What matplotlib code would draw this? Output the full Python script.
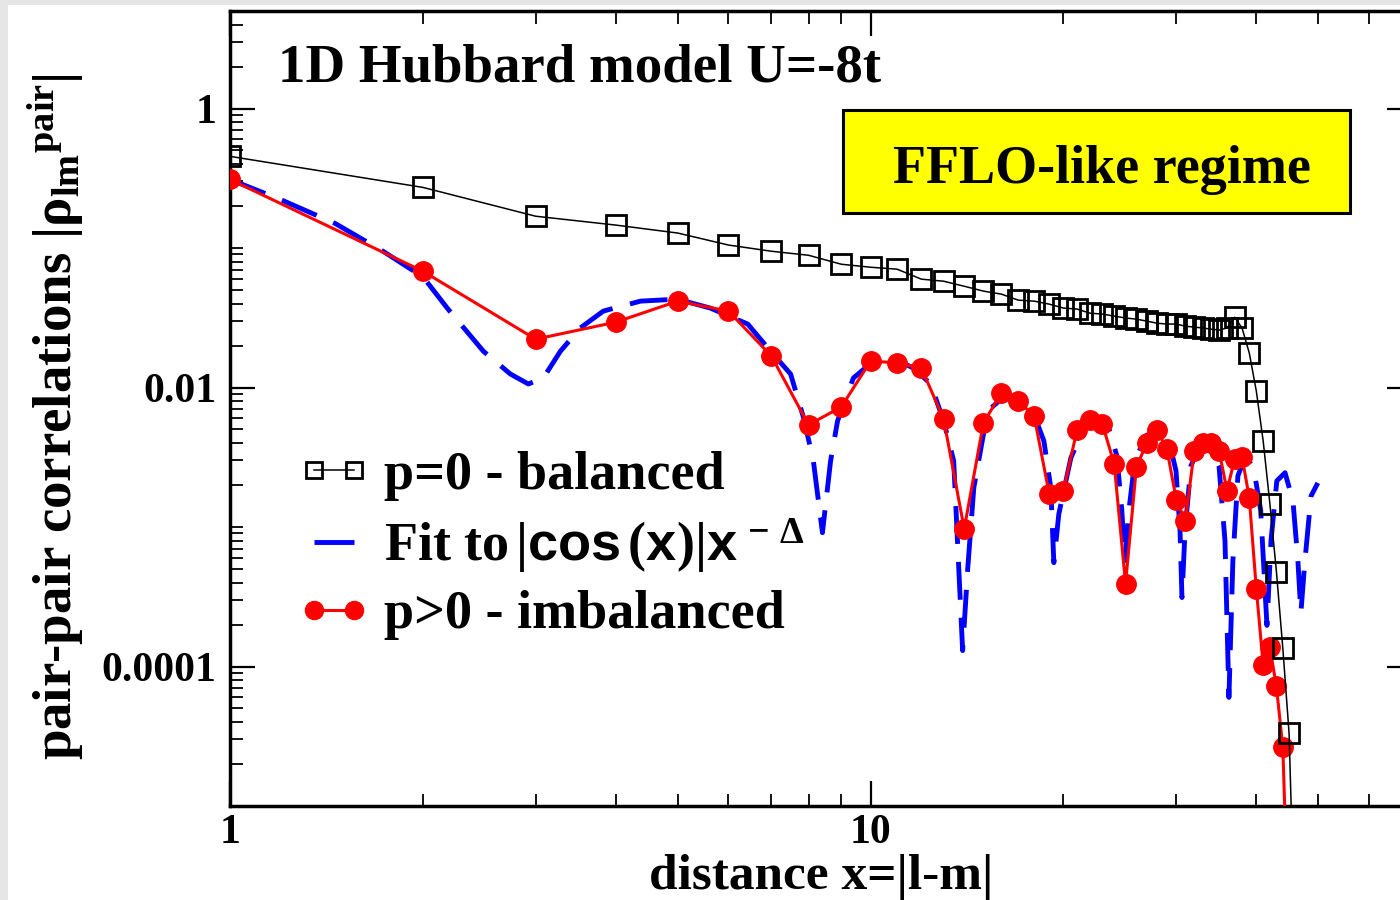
import matplotlib
matplotlib.use("Agg")
import matplotlib.pyplot as plt
from matplotlib.lines import Line2D
from matplotlib.patches import Rectangle
from matplotlib.ticker import FixedLocator, FuncFormatter, NullFormatter

plt.rcParams['font.family'] = ['Liberation Serif', 'DejaVu Serif']
plt.rcParams['font.weight'] = 'bold'
plt.rcParams['axes.labelweight'] = 'bold'
plt.rcParams['mathtext.fontset'] = 'custom'
plt.rcParams['mathtext.rm'] = 'Liberation Serif'
plt.rcParams['mathtext.it'] = 'Liberation Serif:italic'
plt.rcParams['mathtext.bf'] = 'Liberation Serif:bold'
plt.rcParams['mathtext.sf'] = 'Liberation Sans:bold'

# ---- data ----
x_bal = list(range(1, 47))
y_bal = [0.454, 0.272, 0.169, 0.146, 0.128, 0.105, 0.0948, 0.0887, 0.0765, 0.0728,
         0.0705, 0.0598, 0.0578, 0.0532, 0.0491, 0.0467, 0.0423, 0.0416, 0.0396, 0.0371,
         0.0365, 0.0341, 0.0336, 0.0325, 0.0315, 0.0309, 0.0299, 0.0289, 0.0285, 0.0285,
         0.0275, 0.0271, 0.0267, 0.0262, 0.0258, 0.0267, 0.0319, 0.0267, 0.0177, 0.00944,
         0.00414, 0.00147, 4.78e-4, 1.35e-4, 3.32e-5, 1e-6]

x_imb = list(range(1, 46))
y_imb = [0.310, 0.0682, 0.0222, 0.0294, 0.0416, 0.0353, 0.0168, 0.0054, 0.00725, 0.0155,
         0.0150, 0.0138, 0.00595, 0.00097, 0.00557, 0.00914, 0.0080, 0.00625, 0.00173, 0.00182,
         0.00497, 0.00585, 0.00548, 0.00284, 3.93e-4, 0.0027, 0.00401, 0.00497, 0.00363, 0.00157,
         0.00111, 0.00351, 0.00401, 0.00401, 0.00351, 0.00182, 0.00308, 0.00318, 0.00162, 3.61e-4,
         1.03e-4, 1.37e-4, 7.19e-5, 2.63e-5, 1e-6]

x_fit = [1.0, 1.206, 1.459, 1.734, 2.003, 2.183, 2.486, 2.739, 2.922, 3.084,
         3.279, 3.522, 3.826, 4.372, 4.99, 5.62, 6.43, 6.98, 7.50, 7.86,
         8.14, 8.41, 8.66, 8.88, 9.40, 10.11, 10.86, 11.67, 12.41, 13.00,
         13.48, 13.92, 14.18, 14.49, 15.23, 16.13, 16.98, 17.98, 18.64, 19.11,
         19.32, 19.67, 20.54, 21.53, 22.48, 23.55, 24.23, 24.67, 24.93, 25.30,
         25.85, 26.91, 28.07, 29.22, 29.97, 30.41, 30.62, 30.96, 31.62, 32.79,
         33.97, 34.98, 35.74, 36.25, 36.77, 37.44, 38.53, 39.64, 40.64, 41.56,
         42.17, 43.06, 44.35, 45.63, 46.45, 46.95, 47.64, 48.70, 49.9]
y_fit = [0.310, 0.220, 0.150, 0.0947, 0.0618, 0.0371, 0.0182, 0.0125, 0.0106, 0.0117,
         0.0182, 0.0267, 0.0353, 0.0416, 0.0430, 0.0371, 0.0285, 0.0182, 0.0125, 0.00605,
         0.00298, 0.00091, 0.00298, 0.00576, 0.0117, 0.0155, 0.0160, 0.0138, 0.0106, 0.00576,
         0.00298, 1.30e-4, 5.11e-4, 0.00191, 0.00679, 0.00855, 0.0080, 0.00646, 0.00414, 0.00191,
         5.55e-4, 0.00124, 0.00313, 0.00513, 0.00576, 0.00505, 0.00324, 0.00131, 5.74e-4, 0.00131,
         0.00298, 0.0045, 0.00505, 0.00414, 0.00253, 9.4e-4, 3.12e-4, 9.4e-4, 0.00274, 0.00394,
         0.00380, 0.00274, 7.97e-4, 6.0e-5, 5.74e-4, 0.00233, 0.00324, 0.00261, 0.00131, 1.97e-4,
         7.97e-4, 0.00214, 0.00245, 0.00154, 5.74e-4, 2.43e-4, 5.74e-4, 0.00167, 0.00207]

labels = ["p=0 - balanced",
          r"Fit to$\,|\mathsf{cos}\,(\mathsf{x})|\mathsf{x}^{\,-\,\mathit{\Delta}}$",
          "p>0 - imbalanced"]

fig = plt.figure(figsize=(14, 9), dpi=100)
fig.patch.set_facecolor('#e6e6e6')
fig.patches.append(Rectangle((8 / 1400, 0), 1, 895 / 900, transform=fig.transFigure,
                             facecolor='white', edgecolor='none', zorder=-10))
ax = fig.add_axes([230 / 1400, 94 / 900, 1182 / 1400, 795 / 900])
ax.set_facecolor('white')

ax.plot(x_fit, y_fit, color='#0000ff', lw=3.5, dashes=(7.8, 3.7), zorder=2)
ax.plot(x_imb, y_imb, color='#ff0000', lw=2.2, marker='o', ms=14, zorder=3)
ax.plot(x_bal, y_bal, color='black', lw=1.1, marker='s', ms=15, mfc='none',
        mec='black', mew=2.0, zorder=4)

ax.set_xscale('log')
ax.set_yscale('log')
ax.set_xlim(1, 70)
ax.set_ylim(1e-5, 5)

ax.xaxis.set_major_locator(FixedLocator([1, 10]))
ax.xaxis.set_minor_locator(FixedLocator([k * 10 ** n for n in (0, 1) for k in range(2, 10)]))
ax.yaxis.set_major_locator(FixedLocator([1e-4, 1e-2, 1]))
ax.yaxis.set_minor_locator(FixedLocator([k * 10.0 ** n for n in range(-5, 1) for k in range(1, 10)
                                         if (k, n) not in ((1, -4), (1, -2), (1, 0))]))
fmt = FuncFormatter(lambda v, p: f"{v:g}")
ax.xaxis.set_major_formatter(fmt)
ax.yaxis.set_major_formatter(fmt)
ax.xaxis.set_minor_formatter(NullFormatter())
ax.yaxis.set_minor_formatter(NullFormatter())

ax.tick_params(which='both', direction='in', top=True, right=True, labelsize=30)
ax.tick_params(which='major', length=18, width=1.6, pad=10)
ax.tick_params(which='minor', length=9, width=1.3)
ax.tick_params(axis='x', which='major', pad=6)
for s in ax.spines.values():
    s.set_linewidth(2.5)

ax.set_xlabel("distance x=|l-m|", fontsize=37, fontweight='bold')
ax.xaxis.set_label_coords(0.5, -0.06)
ax.set_ylabel(r"pair-pair correlations |ρ$_{\mathbf{lm}}{}^{\mathbf{pair}}$|", fontsize=39.5,
              fontweight='bold')
ax.yaxis.set_label_coords(-0.122, 0.49)

ax.text(0.0406, 0.911, "1D Hubbard model U=-8t", transform=ax.transAxes,
        fontsize=39.5, va='baseline', ha='left')

ax.add_patch(Rectangle((0.5186, 0.7459), 0.4289, 0.1296, transform=ax.transAxes,
                       facecolor='#ffff00', edgecolor='black', lw=2.2, zorder=5))
ax.text(0.7377, 0.7836, "FFLO-like regime", transform=ax.transAxes, fontsize=39,
        ha='center', va='baseline', zorder=6)

handles = [Line2D([], [], color='black', lw=1.1, marker='s', ms=11, mfc='none', mec='black', mew=2),
           Line2D([], [], color='#0000ff', lw=3.5, dashes=(9, 5)),
           Line2D([], [], color='#ff0000', lw=2.2, marker='o', ms=13)]
ax.legend(handles, labels, loc='upper left', bbox_to_anchor=(0.057, 0.446), frameon=False,
          numpoints=2, handlelength=1.35, handletextpad=0.25, labelspacing=0.28,
          fontsize=39, borderaxespad=0, borderpad=0)

fig.savefig("out.png", dpi=100, facecolor=fig.get_facecolor())
